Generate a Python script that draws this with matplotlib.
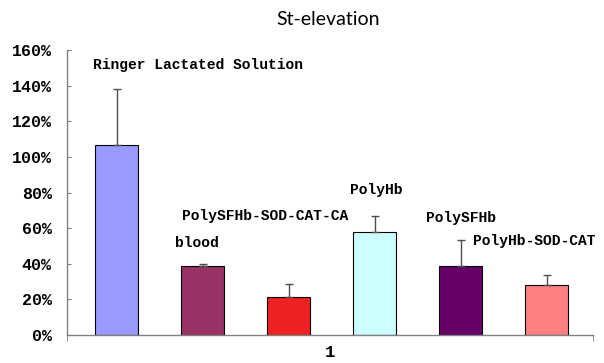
import matplotlib
matplotlib.use("Agg")
import matplotlib.pyplot as plt
from matplotlib.ticker import FuncFormatter

# data
groups = ["Ringer Lactated Solution", "blood", "PolySFHb-SOD-CAT-CA",
          "PolyHb", "PolySFHb", "PolyHb-SOD-CAT"]
means = [1.065, 0.39, 0.215, 0.58, 0.385, 0.28]
errors = [0.315, 0.01, 0.07, 0.09, 0.15, 0.055]
colors = ["#9999FF", "#993366", "#EE2222", "#CCFFFF", "#660066", "#FF8080"]
category = "1"

# where the series names sit (layout only)
label_pos = [(-0.274, 1.516), (0.68, 0.516), (0.761, 0.668),
             (2.715, 0.814), (3.598, 0.657), (4.145, 0.528)]

fig = plt.figure(figsize=(6.04, 3.63), dpi=100)
ax = fig.add_axes([0.111, 0.077, 0.871, 0.785])

x = list(range(len(groups)))
ax.bar(x, means, width=0.5, color=colors, edgecolor="black", linewidth=0.8, zorder=2)
ax.errorbar(x, means, yerr=[[0] * len(errors), errors], fmt="none",
            ecolor="#4d4d4d", elinewidth=1, capsize=3, capthick=1, zorder=3)

for name, (lx, ly) in zip(groups, label_pos):
    ax.text(lx, ly, name, ha="left", va="center", fontsize=10.5,
            fontweight="bold", family="Liberation Mono")

ax.set_xlim(-0.576, 5.54)
ax.set_ylim(0, 1.6)
ax.set_yticks([i * 0.2 for i in range(9)])
ax.yaxis.set_major_formatter(FuncFormatter(lambda v, p: f"{v * 100:.0f}%"))
for lab in ax.get_yticklabels():
    lab.set_fontweight("bold")
    lab.set_fontsize(12)
    lab.set_family("Liberation Mono")
ax.tick_params(axis="y", direction="in", length=3, color="#808080", pad=11)

ax.set_xticks([2.482])
ax.set_xticklabels([category], fontsize=12.5, fontweight="bold", family="Liberation Mono")
ax.set_xticks([-0.576, 5.54], minor=True)
ax.tick_params(axis="x", which="major", length=0, pad=7)
ax.tick_params(axis="x", which="minor", direction="out", length=4, color="#808080")

for s in ["top", "right"]:
    ax.spines[s].set_visible(False)
for s in ["left", "bottom"]:
    ax.spines[s].set_color("#808080")
    ax.spines[s].set_linewidth(1)

fig.text(0.543, 0.945, "St-elevation", ha="center", va="center",
         fontsize=14, family="Lato")

fig.savefig("out.png", dpi=100)
